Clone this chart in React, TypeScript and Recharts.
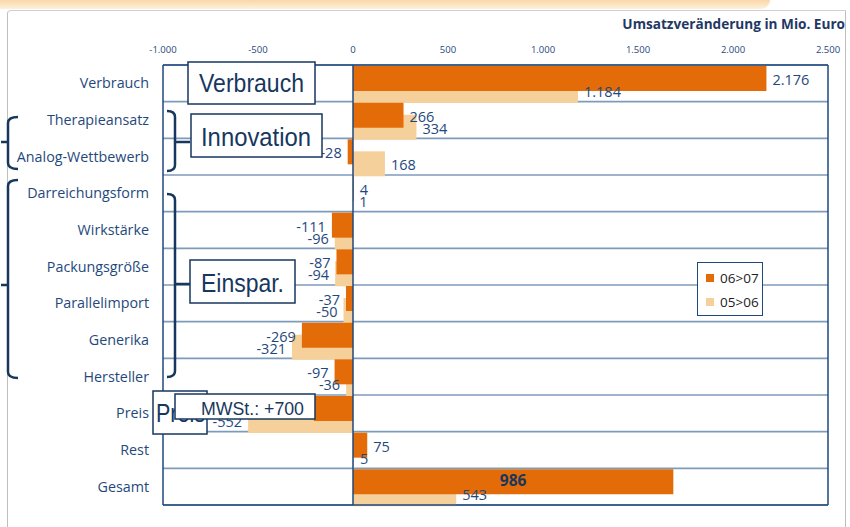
import React from 'react';
import { BarChart, Bar, XAxis, YAxis, CartesianGrid, ReferenceLine, LabelList, Legend } from 'recharts';

const categories = [
  'Verbrauch',
  'Therapieansatz',
  'Analog-Wettbewerb',
  'Darreichungsform',
  'Wirkstärke',
  'Packungsgröße',
  'Parallelimport',
  'Generika',
  'Hersteller',
  'Preis',
  'Rest',
  'Gesamt',
];
// 06>07 bars (Preis and Gesamt include the VAT effect)
const series0607 = [2176, 266, -28, 4, -111, -87, -37, -269, -97, -206, 75, 1686];
const series0506 = [1184, 334, 168, 1, -96, -94, -50, -321, -36, -552, 5, 543];
const mwstEffect = 700;
const xTicks = [-1000, -500, 0, 500, 1000, 1500, 2000, 2500];
const seriesNames = ['06>07', '05>06'];
const title = 'Umsatzveränderung in Mio. Euro';

const data = categories.map((name, i) => ({ name, a: series0607[i], b: series0506[i] }));

const DARK = '#E36C09';
const LIGHT = '#F6D09A';
const NAVY = '#1F497D';
const INK = '#17375E';
const FONT = '"Open Sans", "Liberation Sans", sans-serif';

const fmt = (v: number) => {
  const s = Math.abs(Math.round(v)).toString().replace(/\B(?=(\d{3})+(?!\d))/g, '.');
  return (v < 0 ? '-' : '') + s;
};

const makeLabel = (isDark: boolean) => (props: any) => {
  const { x, y, width, height, value, index } = props;
  const nx = Number(x), ny = Number(y), w = Number(width), h = Number(height);
  const left = Math.min(nx, nx + w);
  const right = Math.max(nx, nx + w);
  const cy = ny + h / 2;
  if (isDark && categories[index] === 'Gesamt') {
    return (
      <text x={(left + right) / 2} y={cy - 2} textAnchor="middle" dominantBaseline="central"
        fontFamily={FONT} fontSize={15.5} fontWeight="bold" fill={INK}>{fmt(Number(value) - mwstEffect)}</text>
    );
  }
  const pos = Number(value) >= 0;
  return (
    <text x={pos ? right + 6 : left - 6} y={cy + 1} textAnchor={pos ? 'start' : 'end'} dominantBaseline="central"
      fontFamily={FONT} fontSize={14.5} fill={NAVY}>{fmt(value)}</text>
  );
};

const LegendBox = () => (
  <div style={{ border: `1px solid ${NAVY}`, background: '#fff', width: 66, height: 54, boxSizing: 'border-box', padding: '5px 0 0 8px', fontFamily: FONT, fontSize: 13.5, color: '#222' }}>
    <div style={{ display: 'flex', alignItems: 'center', height: 20 }}>
      <span style={{ width: 8, height: 8, background: DARK, display: 'inline-block', marginRight: 6 }} />{seriesNames[0]}
    </div>
    <div style={{ display: 'flex', alignItems: 'center', height: 20, marginTop: 4 }}>
      <span style={{ width: 8, height: 8, background: LIGHT, display: 'inline-block', marginRight: 6 }} />{seriesNames[1]}
    </div>
  </div>
);

const Box = ({ x, y, w, h, text, tx, tl, base, fs }: any) => (
  <g>
    <rect x={x} y={y} width={w} height={h} fill="#fff" stroke={INK} strokeWidth={1.5} />
    <text x={tx} y={base} fontFamily='"Liberation Sans Narrow", "Liberation Sans", sans-serif' fontSize={fs} fill={INK}
      textLength={tl} lengthAdjust="spacingAndGlyphs">{text}</text>
  </g>
);

const rowLines = ({ offset }: any) => {
  const out: number[] = [];
  for (let i = 0; i <= categories.length; i++) out.push(offset.top + (i * offset.height) / categories.length);
  return out;
};

export default function App() {
  return (
    <div style={{ position: 'absolute', left: 0, top: 0, width: 850, height: 527, background: '#fff', overflow: 'hidden' }}>
      <div style={{ position: 'absolute', left: 0, top: 0, width: 770, height: 9, background: 'linear-gradient(to bottom, #FAD7A6, #FEF1DE)', borderBottomRightRadius: 30 }} />
      <div style={{ position: 'absolute', left: 7, top: 10, width: 837, height: 530, borderLeft: '1.5px solid #BFBFBF', borderTop: '1px solid #D0D0D0', borderRight: '1.5px solid #BFBFBF', borderTopLeftRadius: 4 }} />
      <div style={{ position: 'absolute', right: 5, top: 14, fontFamily: FONT, fontWeight: 'bold', fontSize: 13.6, color: '#1F3864' }}>{title}</div>
      <div style={{ position: 'absolute', left: 0, top: 0 }}>
        <BarChart width={850} height={527} data={data} layout="vertical" margin={{ top: 35, right: 21, bottom: 12, left: 0 }}>
          <CartesianGrid xAxisId="top" yAxisId="cat" vertical={false} horizontalCoordinatesGenerator={rowLines} stroke="#7F9BBB" strokeWidth={1.6} />
          <XAxis xAxisId="top" orientation="top" type="number" domain={[-1000, 2500]} ticks={xTicks} allowDataOverflow
            tickFormatter={fmt} tickLine={false} tickSize={0} tickMargin={12} height={30}
            axisLine={{ stroke: NAVY, strokeWidth: 1.5 }} tick={{ fontSize: 9.5, fill: NAVY, fontFamily: FONT }} />
          <XAxis xAxisId="bot" orientation="bottom" type="number" domain={[-1000, 2500]} ticks={xTicks} allowDataOverflow
            tick={false} tickSize={4} tickLine={{ stroke: NAVY, strokeWidth: 1.5 }} height={10}
            axisLine={{ stroke: NAVY, strokeWidth: 1.5 }} />
          <YAxis yAxisId="cat" type="category" dataKey="name" width={163} tickLine={false} tickSize={0} tickMargin={14}
            axisLine={{ stroke: NAVY, strokeWidth: 1.5 }} tick={{ fontSize: 14.3, fill: NAVY, fontFamily: FONT }} interval={0} />
          <YAxis yAxisId="d" type="category" dataKey="name" hide padding={{ top: -5, bottom: 5 }} />
          <YAxis yAxisId="l" type="category" dataKey="name" hide padding={{ top: 7, bottom: -7 }} />
          <YAxis yAxisId="grid" orientation="right" type="number" domain={[0, 12]} allowDataOverflow
            width={1} tick={false} tickLine={false} axisLine={{ stroke: NAVY, strokeWidth: 1.5 }} />
          <Bar dataKey="b" name={seriesNames[1]} xAxisId="top" yAxisId="l" fill={LIGHT} barSize={25} isAnimationActive={false}>
            <LabelList dataKey="b" content={makeLabel(false)} />
          </Bar>
          <Bar dataKey="a" name={seriesNames[0]} xAxisId="top" yAxisId="d" fill={DARK} barSize={25} isAnimationActive={false}>
            <LabelList dataKey="a" content={makeLabel(true)} />
          </Bar>
          <ReferenceLine x={0} xAxisId="top" yAxisId="cat" stroke={NAVY} strokeWidth={1.5} />
          <Legend layout="vertical" align="center" verticalAlign="middle" content={LegendBox}
            wrapperStyle={{ left: 697, top: 262, width: 66, height: 54 }} />
        </BarChart>
      </div>
      <svg width={850} height={527} style={{ position: 'absolute', left: 0, top: 0, pointerEvents: 'none' }}>
        <g fill="none" stroke={INK} strokeWidth={2.5}>
          <path d="M18 117 Q8 117 8 123 L8 163 Q8 169 18 169 M8 142 L1 142" />
          <path d="M18 180 Q8 180 8 186 L8 372 Q8 378 18 378 M8 285 L1 285" />
          <path d="M167 111 Q175 111 175 117 L175 165 Q175 171 167 171 M175 142 L190 142" />
          <path d="M167 194 Q175 194 175 200 L175 371 Q175 377 167 377 M175 284 L190 284" />
        </g>
        <Box x={188} y={62} w={127} h={42} text="Verbrauch" tx={199} tl={105} base={92} fs={25} />
        <Box x={191} y={114} w={131} h={43} text="Innovation" tx={201} tl={110} base={146} fs={25} />
        <Box x={190} y={260} w={105} h={43} text="Einspar." tx={201} tl={83} base={292} fs={25} />
        <Box x={153} y={391} w={54} h={43} text="Preis" tx={156} tl={49} base={422} fs={25} />
        <Box x={175} y={394} w={140} h={25} text="MWSt.: +700" tx={201} tl={103} base={415} fs={19} />
      </svg>
    </div>
  );
}
